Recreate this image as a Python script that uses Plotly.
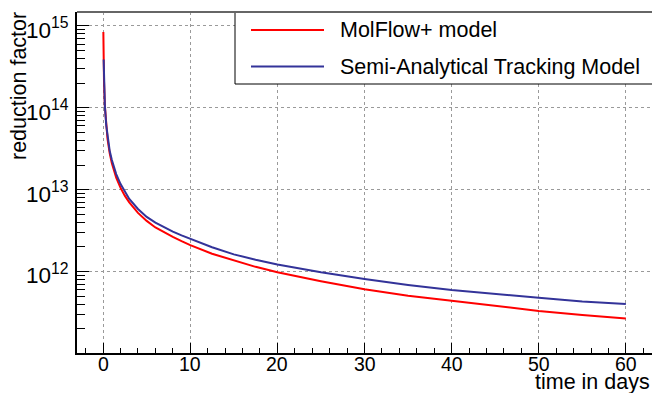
import plotly.graph_objects as go

# ---- data ----
days_red = [0.025, 0.05, 0.1, 0.2, 0.35, 0.5, 0.75, 1.0, 1.5, 2.0, 2.5, 3.0, 4.0, 5.0, 6.0, 7.0,
            8.0, 9.0, 10.0, 12.5, 15.0, 17.5, 20.0, 25.0, 30.0, 35.0, 40.0, 45.0, 50.0, 55.0, 60.0]
molflow = [8.45e14, 4.3e14, 2.1e14, 1.05e14, 6.0e13, 4.2e13, 2.8e13, 2.1e13, 1.4e13, 1.05e13,
           8.4e12, 7.0e12, 5.2e12, 4.15e12, 3.45e12, 3.0e12, 2.65e12, 2.35e12, 2.1e12, 1.65e12,
           1.36e12, 1.14e12, 9.8e11, 7.6e11, 6.05e11, 5.05e11, 4.4e11, 3.8e11, 3.3e11, 2.95e11,
           2.66e11]

days_blue = [0.06, 0.1, 0.2, 0.35, 0.5, 0.75, 1.0, 1.5, 2.0, 2.5, 3.0, 4.0, 5.0, 6.0, 7.0, 8.0,
             9.0, 10.0, 12.5, 15.0, 17.5, 20.0, 25.0, 30.0, 35.0, 40.0, 45.0, 50.0, 55.0, 60.0]
semi_analytical = [3.9e14, 2.2e14, 1.05e14, 6.2e13, 4.4e13, 3.0e13, 2.3e13, 1.55e13, 1.17e13,
                   9.3e12, 7.7e12, 5.8e12, 4.65e12, 3.95e12, 3.45e12, 3.07e12, 2.76e12, 2.5e12,
                   1.98e12, 1.62e12, 1.39e12, 1.22e12, 9.8e11, 8.1e11, 6.85e11, 5.95e11,
                   5.3e11, 4.77e11, 4.3e11, 4.0e11]

x_tick_values = [0, 10, 20, 30, 40, 50, 60]
x_tick_labels = ["0", "10", "20", "30", "40", "50", "60"]

series_names = ["MolFlow+ model", "Semi-Analytical Tracking Model"]
x_title = "time in days"
y_title = "reduction factor"

RED = "#ff0000"
BLUE = "#333399"
FONT = "Liberation Sans, Arial, Helvetica, sans-serif"

W, H = 652, 393
L, R, T, B = 77, 0, 12, 40
PW, PH = W - L - R, H - T - B


def px(x):
    return (x - L) / PW


def py(y):
    return (H - B - y) / PH


fig = go.Figure()
fig.add_trace(go.Scatter(x=days_red, y=molflow, mode="lines", name=series_names[0],
                         line=dict(color=RED, width=2), showlegend=False))
fig.add_trace(go.Scatter(x=days_blue, y=semi_analytical, mode="lines", name=series_names[1],
                         line=dict(color=BLUE, width=2), showlegend=False))

fig.update_layout(
    width=W, height=H,
    margin=dict(l=L, r=R, t=T, b=B, pad=0),
    paper_bgcolor="white", plot_bgcolor="white",
    font=dict(family=FONT, size=20, color="black"),
)

fig.update_xaxes(
    range=[-3, 63], tickvals=x_tick_values, showticklabels=False,
    ticks="inside", ticklen=10, tickwidth=1, tickcolor="black",
    showline=True, linecolor="black", linewidth=1.5,
    showgrid=True, gridcolor="#9a9a9a", griddash="dot", gridwidth=1,
    zeroline=False,
    minor=dict(dtick=2, tick0=0, ticks="inside", ticklen=5, tickcolor="black", showgrid=False),
)
fig.update_yaxes(
    type="log", range=[11.004, 15.171], dtick=1,
    exponentformat="power",
    ticks="inside", ticklen=12, tickwidth=1, tickcolor="black",
    showline=True, linecolor="black", linewidth=1.5,
    showgrid=True, gridcolor="#9a9a9a", griddash="dot", gridwidth=1,
    zeroline=False,
    minor=dict(dtick="D1", ticks="inside", ticklen=8, tickcolor="black", showgrid=False),
    tickfont=dict(size=18, family=FONT, color="black"),
    ticklabelstandoff=3,
    ticklabelshift=4,
)

shapes = []
# legend box
shapes.append(dict(type="rect", xref="paper", yref="paper", x0=px(235), x1=px(700),
                   y0=py(84), y1=py(12), line=dict(color="black", width=1),
                   fillcolor="white", layer="above"))
# top frame line
shapes.append(dict(type="line", xref="paper", yref="paper", x0=0, x1=1.02, y0=1, y1=1,
                   line=dict(color="#666666", width=2), layer="above"))
# legend samples
for yy, col in [(30, RED), (66.5, BLUE)]:
    shapes.append(dict(type="line", xref="paper", yref="paper", x0=px(251), x1=px(324),
                       y0=py(yy), y1=py(yy), line=dict(color=col, width=2), layer="above"))
fig.update_layout(shapes=shapes)

annotations = []
for v, t in zip(x_tick_values, x_tick_labels):
    annotations.append(dict(xref="x", yref="paper", x=v, y=py(364), xanchor="center",
                            yanchor="middle", text=t, showarrow=False,
                            font=dict(size=19.5, family=FONT, color="black")))
for yy, name in [(30, series_names[0]), (66.5, series_names[1])]:
    annotations.append(dict(xref="paper", yref="paper", x=px(338), y=py(yy),
                            xanchor="left", yanchor="middle", text=name, showarrow=False,
                            font=dict(size=21.5, family=FONT, color="black")))
annotations.append(dict(xref="paper", yref="paper", x=1, y=py(393), xanchor="right",
                        yanchor="bottom", text=x_title, showarrow=False, yshift=-3,
                        font=dict(size=21.5, family=FONT, color="black")))
annotations.append(dict(xref="paper", yref="paper", x=px(19), y=py(10), xanchor="center",
                        yanchor="top", text=y_title, textangle=-90, showarrow=False,
                        font=dict(size=21.5, family=FONT, color="black")))
fig.update_layout(annotations=annotations)

fig.write_html("out.html")
